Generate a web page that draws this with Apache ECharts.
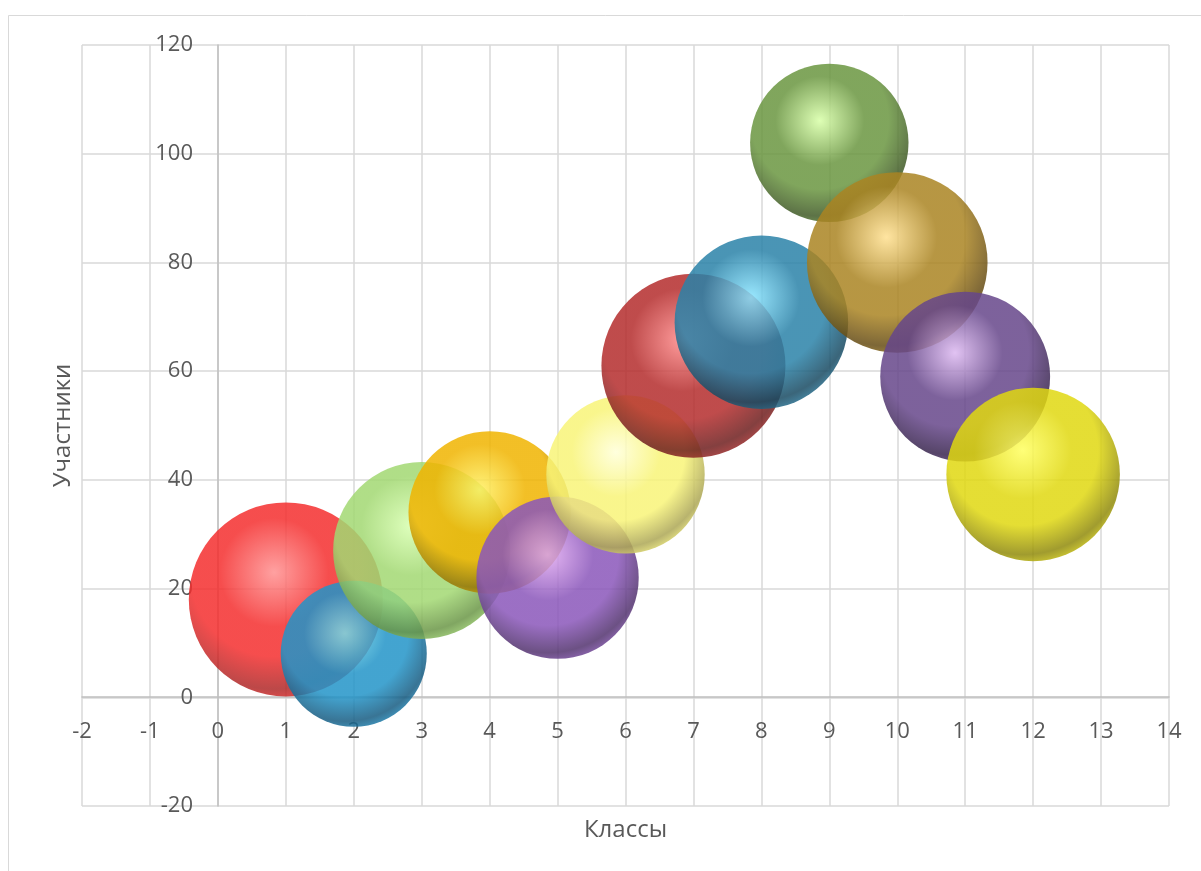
<!DOCTYPE html>
<html>
<head>
<meta charset="utf-8">
<script src="https://cdn.jsdelivr.net/npm/echarts@6/dist/echarts.min.js"></script>
<style>
html,body{margin:0;padding:0;background:#fff;}
#chart{width:1201px;height:871px;}
</style>
</head>
<body>
<div id="chart"></div>
<script>
// Data
const classes = [1, 2, 3, 4, 5, 6, 7, 8, 9, 10, 11, 12];
const participants = [18, 8, 27, 34, 22, 41, 61, 69, 102, 80, 59, 41];
const bubbleSizes = [30, 17, 25, 21, 21, 20, 27, 24, 20, 26, 23, 24];
const xAxisName = 'Классы';
const yAxisName = 'Участники';

// Styles
const palette = [
  ['#ff9090', '#f42e2e', '#b02828'],
  ['#78dce8', '#2294c8', '#165c82'],
  ['#d8ffb0', '#a2d872', '#6a9646'],
  ['#fff060', '#f0b400', '#987604'],
  ['#e0a8f0', '#8a56ba', '#52326e'],
  ['#ffffd8', '#f8f478', '#aca654'],
  ['#ff8a8a', '#b42c2c', '#6e1e1e'],
  ['#88e4ff', '#2a82a8', '#184a62'],
  ['#d8ffa8', '#6a9640', '#405a26'],
  ['#ffe090', '#aa8422', '#664c14'],
  ['#dcb8f0', '#66468a', '#38244e'],
  ['#ffff60', '#e0d810', '#908a0a']
];
const maxDiameter = 194;
const maxSize = Math.max.apply(null, bubbleSizes);

function ballColor(c) {
  return {
    type: 'radial', x: 0.44, y: 0.36, r: 0.7,
    colorStops: [
      { offset: 0, color: c[0] },
      { offset: 0.4, color: c[1] },
      { offset: 0.62, color: c[1] },
      { offset: 0.86, color: c[2] },
      { offset: 1, color: c[1] }
    ]
  };
}

const data = classes.map((x, i) => ({
  value: [x, participants[i], bubbleSizes[i]],
  itemStyle: { color: ballColor(palette[i]), opacity: 0.85 }
}));

const labelStyle = { color: '#595959', fontSize: 22, fontFamily: 'Open Sans' };
const nameStyle = { color: '#595959', fontSize: 24, fontFamily: 'Open Sans' };

const chart = echarts.init(document.getElementById('chart'), null, { renderer: 'canvas' });
chart.setOption({
  animation: false,
  backgroundColor: '#fff',
  graphic: [{
    type: 'rect',
    shape: { x: 8.5, y: 15.5, width: 1400, height: 1000 },
    style: { fill: 'none', stroke: '#d9d9d9', lineWidth: 1 },
    silent: true
  }],
  grid: { left: 82, right: 32, top: 45, bottom: 65, containLabel: false, outerBoundsMode: 'none' },
  xAxis: {
    type: 'value', min: -2, max: 14, interval: 1,
    position: 'bottom', offset: -109,
    name: xAxisName, nameLocation: 'middle', nameGap: 121,
    nameTextStyle: nameStyle,
    axisLine: { onZero: false, lineStyle: { color: '#bfbfbf', width: 1.5 } },
    axisTick: { show: false },
    axisLabel: Object.assign({ margin: 24 }, labelStyle),
    splitLine: { show: true, lineStyle: { color: '#d9d9d9', width: 1.5 } }
  },
  yAxis: {
    type: 'value', min: -20, max: 120, interval: 20,
    position: 'left', offset: -136,
    name: yAxisName, nameLocation: 'middle', nameGap: 143,
    nameTextStyle: nameStyle,
    axisLine: { onZero: false, lineStyle: { color: '#bfbfbf', width: 1.5 } },
    axisTick: { show: false },
    axisLabel: Object.assign({ margin: 25 }, labelStyle),
    splitLine: { show: true, lineStyle: { color: '#d9d9d9', width: 1.5 } }
  },
  series: [{
    type: 'scatter',
    symbol: 'circle',
    symbolSize: v => maxDiameter * Math.sqrt(v[2] / maxSize),
    data: data
  }]
});
</script>
</body>
</html>
